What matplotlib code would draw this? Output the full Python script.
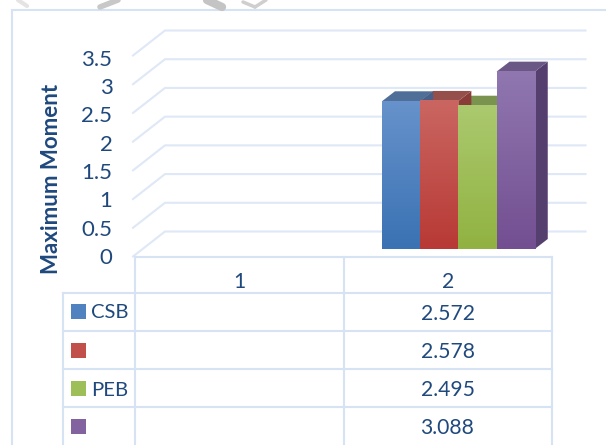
import matplotlib
matplotlib.use('Agg')
import matplotlib.pyplot as plt
import numpy as np
from matplotlib.patches import Polygon, Rectangle

plt.rcParams['font.family'] = ['Lato', 'DejaVu Sans']

series = ['CSB', '', 'PEB', '']
values = [2.572, 2.578, 2.495, 3.088]
categories = ['1', '2']
yticks = [0, 0.5, 1, 1.5, 2, 2.5, 3, 3.5]
yticklabels = ['0', '0.5', '1', '1.5', '2', '2.5', '3', '3.5']

top_cols = ['#6792cb', '#ca6661', '#abc96e', '#9077b0']
bottom_cols = ['#3a72b3', '#b83935', '#91b242', '#734f91']
roof_cols = ['#4f6f99', '#96504c', '#7a9450', '#6a5785']
side_cols = ['#46608a', '#8a3c39', '#6d8a3a', '#553f6e']

W, H = 606, 445
TEXT = '#1f497d'
LINE = '#d6e3f5'
GRID = '#dfe8f6'

fig = plt.figure(figsize=(W / 100, H / 100), dpi=100)

# front plane of the 3d box: x 135-552, y 256.5-55.5 in pixels
ax = fig.add_axes([135 / W, 1 - 256.5 / H, 417 / W, 201 / H])
ax.set_xlim(0.5, 2.5)
ax.set_ylim(0, 3.5)
ax.axis('off')

px_x = 2 / 417   # data per pixel
px_y = 3.5 / 201

# gridlines go back from the front plane then across the back wall
for t in yticks:
    ax.plot([0.5 - 2 * px_x, 0.5 + 30 * px_x, 2.5 + 33.5 * px_x],
            [t, t + 25 * px_y, t + 25 * px_y],
            color=GRID, lw=1.5, clip_on=False, solid_joinstyle='miter', zorder=1)

# bars sit part way into the depth
bar_w = 38.2 * px_x
bar_x0 = 2 + (381.7 - 447.5) * px_x
base = 7.5 * px_y
depth_x = 13 * px_x
depth_y = 10 * px_y
xs = [bar_x0 + bar_w * i for i in range(len(values))]

# sides and roofs first, right to left, fronts over them
for i in reversed(range(len(values))):
    x0, x1, v = xs[i], xs[i] + bar_w, values[i] + base
    ax.add_patch(Polygon([(x1, base), (x1 + depth_x, base + depth_y),
                          (x1 + depth_x, v + depth_y), (x1, v)],
                         closed=True, fc=side_cols[i], ec='none', clip_on=False, zorder=2))
    ax.add_patch(Polygon([(x0, v), (x0 + depth_x, v + depth_y),
                          (x1 + depth_x, v + depth_y), (x1, v)],
                         closed=True, fc=roof_cols[i], ec='none', clip_on=False, zorder=2))

for i in range(len(values)):
    c0 = np.array(matplotlib.colors.to_rgb(top_cols[i]))
    c1 = np.array(matplotlib.colors.to_rgb(bottom_cols[i]))
    grad = np.linspace(0, 1, 64)[:, None, None] * (c1 - c0) + c0
    im = ax.imshow(grad, extent=[xs[i], xs[i] + bar_w, base, values[i] + base],
                   origin='upper', aspect='auto', zorder=3, clip_on=False)
ax.set_xlim(0.5, 2.5)
ax.set_ylim(0, 3.5)

# overlay in pixels for border, table and labels
ov = fig.add_axes([0, 0, 1, 1], facecolor='none')
ov.set_xlim(0, W)
ov.set_ylim(H, 0)
ov.axis('off')

# chart border
ov.plot([11.5, 11.5, W], [H, 10, 10], color=LINE, lw=1.5, solid_joinstyle='miter')

# scan smudges above the frame
for xa, ya, xb, yb, lw, col in [(18, 0, 27, 6, 3, '#e4e4e4'), (100, 7, 118, 0, 4, '#c8c8c8'),
                                (207, 0, 222, 7, 6, '#c4c4c4'), (243, 2, 255, 7, 2.5, '#cfcfcf'),
                                (255, 7, 266, 0, 2.5, '#cfcfcf')]:
    ov.plot([xa, xb], [ya, yb], color=col, lw=lw, solid_capstyle='round')

# data table
col_x = [135, 343.5, 552]
row_y = [292.5, 331, 369, 407, H]
ov.plot([135, 552], [257, 257], color=LINE, lw=1.5)
for x in col_x:
    ov.plot([x, x], [257, H], color=LINE, lw=1.5)
ov.plot([63, 63], [292.5, H], color=LINE, lw=1.5)
for y in row_y[:-1]:
    ov.plot([63, 552], [y, y], color=LINE, lw=1.5)

fs = 15.2
for i, c in enumerate(categories):
    ov.text((col_x[i] + col_x[i + 1]) / 2, 282, c, color=TEXT, fontsize=fs, ha='center', va='center')

row_c = [312, 350.5, 389, 427]
for i in range(len(values)):
    ov.add_patch(Rectangle((71, row_c[i] - 8), 15, 15,
                           fc=matplotlib.colors.to_hex((np.array(matplotlib.colors.to_rgb(top_cols[i])) +
                                                        np.array(matplotlib.colors.to_rgb(bottom_cols[i]))) / 2),
                           ec='none'))
    if series[i]:
        ov.text(91, row_c[i] + 1, series[i], color=TEXT, fontsize=fs - 0.6, ha='left', va='center')
    ov.text(447.5, row_c[i] + 1.5, '%.3f' % values[i], color=TEXT, fontsize=fs, ha='center', va='center')

# y ticks and title
for t, lab in zip(yticks, yticklabels):
    ov.text(112.5, 258 - t * 56.7, lab, color=TEXT, fontsize=fs + 0.8, ha='right', va='center')
ov.text(52, 179, 'Maximum Moment', color=TEXT, fontsize=16, fontweight='bold',
        rotation=90, ha='center', va='center')

fig.savefig('out.png', dpi=100)
